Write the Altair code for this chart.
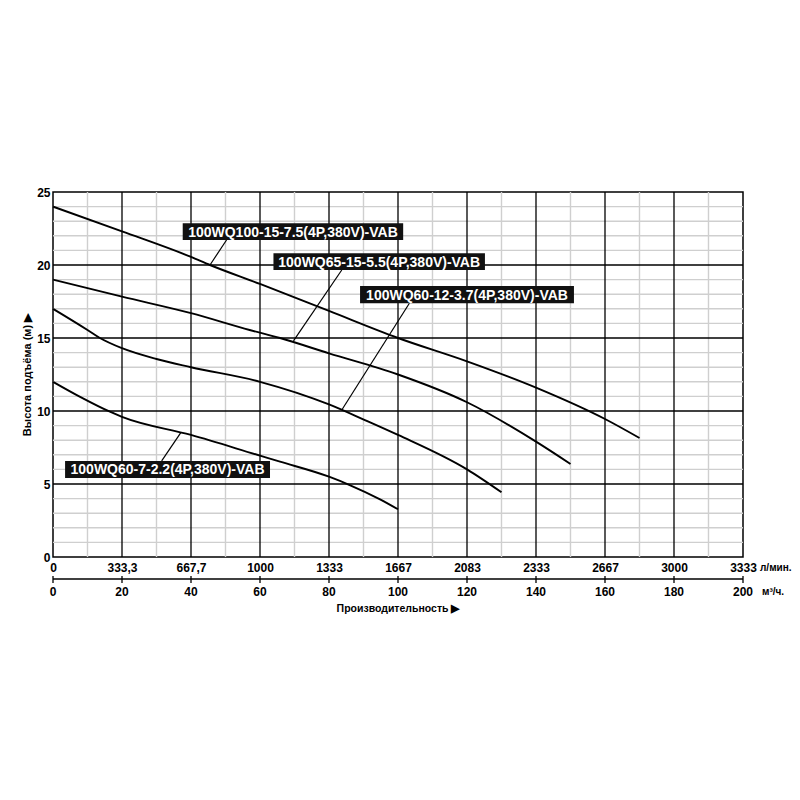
import altair as alt
import pandas as pd

# ---------------- data ----------------
# flow in m3/h, head in m
c1_x = [0, 20, 40, 45.5, 60, 80, 100, 120, 140, 160, 170]
c1_y = [24.0, 22.3, 20.55, 20.0, 18.7, 16.85, 15.0, 13.4, 11.6, 9.45, 8.15]
c2_x = [0, 20, 40, 57, 65.8, 80, 100, 120, 140, 150]
c2_y = [19.0, 17.83, 16.7, 15.55, 15.0, 13.95, 12.5, 10.6, 7.9, 6.37]
c3_x = [0, 10, 13.6, 20, 30, 40, 60, 80, 90.4, 100, 120, 130]
c3_y = [17.0, 15.55, 15.0, 14.3, 13.56, 13.0, 12.0, 10.45, 9.38, 8.36, 6.0, 4.43]
c4_x = [0, 8, 16.5, 20, 40, 60, 65.8, 80, 86, 94.8, 100]
c4_y = [12.0, 10.95, 9.95, 9.6, 8.36, 6.94, 6.53, 5.5, 4.93, 3.95, 3.27]

series_names = [
    "100WQ100-15-7.5(4P,380V)-VAB",
    "100WQ65-15-5.5(4P,380V)-VAB",
    "100WQ60-12-3.7(4P,380V)-VAB",
    "100WQ60-7-2.2(4P,380V)-VAB",
]

# label boxes (data units) and leader lines
box_x1 = [37.6, 63.9, 89.0, 3.5]
box_x2 = [101.5, 125.2, 151.0, 62.9]
box_y1 = [21.71, 19.66, 17.38, 5.41]
box_y2 = [22.86, 20.80, 18.56, 6.58]
lead_x1 = [50.3, 83.7, 103.3, 31.5]
lead_y1 = [21.71, 19.66, 17.38, 6.58]
lead_x2 = [45.5, 69.7, 83.7, 37.1]
lead_y2 = [20.0, 14.8, 10.07, 8.54]

flow_m3h = [0, 20, 40, 60, 80, 100, 120, 140, 160, 180, 200]
flow_lmin = ["0", "333,3", "667,7", "1000", "1333", "1667", "2083", "2333", "2667", "3000", "3333"]
head_ticks = [0, 5, 10, 15, 20, 25]

minor_x = [10, 30, 50, 70, 90, 110, 130, 150, 170, 190]
major_x = [20, 40, 60, 80, 100, 120, 140, 160, 180]
minor_y = [1, 2, 3, 4, 6, 7, 8, 9, 11, 12, 13, 14, 16, 17, 18, 19, 21, 22, 23, 24]
major_y = [5, 10, 15, 20]

W, H = 690, 365
FONT = "Liberation Sans"

# ---------------- frames ----------------
curves = pd.concat([
    pd.DataFrame({"q": xs, "h": ys, "s": name})
    for xs, ys, name in zip([c1_x, c2_x, c3_x, c4_x], [c1_y, c2_y, c3_y, c4_y], series_names)
])
labels = pd.DataFrame({
    "name": series_names, "x1": box_x1, "x2": box_x2, "y1": box_y1, "y2": box_y2,
    "lx1": lead_x1, "ly1": lead_y1, "lx2": lead_x2, "ly2": lead_y2,
})
labels["cx"] = (labels.x1 + labels.x2) / 2
labels["cy"] = (labels.y1 + labels.y2) / 2

xscale = alt.Scale(domain=[0, 200], nice=False, zero=False)
yscale = alt.Scale(domain=[0, 25], nice=False, zero=False)

lab_expr = "[" + ",".join("'%s'" % s for s in flow_lmin) + "][round(datum.value/20)]"

x_axis = alt.Axis(values=flow_m3h, labelExpr=lab_expr, domain=False, ticks=False, grid=False,
                  labelFont=FONT, labelFontWeight="bold", labelFontSize=12, labelColor="black",
                  labelPadding=5, labelFlush=False, labelOverlap=False, title=None)
y_axis = alt.Axis(values=head_ticks, domain=False, ticks=False, grid=False,
                  labelFont=FONT, labelFontWeight="bold", labelFontSize=12, labelColor="black",
                  labelPadding=3, labelFlush=False, labelOverlap=False,
                  title="Высота подъёма (м) ▶", titleFont=FONT, titleFontWeight="bold",
                  titleFontSize=11, titleColor="black", titlePadding=4)


def X(field):
    return alt.X(field, type="quantitative", scale=xscale, axis=x_axis)


def Y(field):
    return alt.Y(field, type="quantitative", scale=yscale, axis=y_axis)


minor_v = alt.Chart(pd.DataFrame({"x": minor_x})).mark_rule(color="#cfcfcf", strokeWidth=1.4).encode(x=X("x"))
minor_h = alt.Chart(pd.DataFrame({"y": minor_y})).mark_rule(color="#cfcfcf", strokeWidth=1.4).encode(y=Y("y"))
major_v = alt.Chart(pd.DataFrame({"x": major_x})).mark_rule(color="black", strokeWidth=1.3).encode(x=X("x"))
major_h = alt.Chart(pd.DataFrame({"y": major_y})).mark_rule(color="black", strokeWidth=1.3).encode(y=Y("y"))

lines = alt.Chart(curves).mark_line(color="black", strokeWidth=1.9, interpolate="monotone").encode(
    x=X("q"), y=Y("h"), detail="s:N",
)

leaders = alt.Chart(labels).mark_rule(color="black", strokeWidth=1.2).encode(
    x=X("lx1"), x2="lx2:Q", y=Y("ly1"), y2="ly2:Q",
)
boxes = alt.Chart(labels).mark_rect(color="#111111").encode(
    x=X("x1"), x2="x2:Q", y=Y("y1"), y2="y2:Q",
)
box_text = alt.Chart(labels).mark_text(color="white", font=FONT, fontWeight="bold", fontSize=14,
                                       baseline="middle", align="center", dy=1).encode(
    x=X("cx"), y=Y("cy"), text="name:N",
)

# second (m3/h) axis drawn below
ax2 = pd.DataFrame({"x": [flow_m3h[0]], "x2": [flow_m3h[-1]]})
ax2_line = alt.Chart(ax2).mark_rule(color="black", strokeWidth=1.3).encode(
    x=X("x"), x2="x2:Q", y=alt.value(H + 22),
)
ax2_df = pd.DataFrame({"x": flow_m3h, "t": [str(v) for v in flow_m3h]})
ax2_ticks = alt.Chart(ax2_df).mark_rule(color="black", strokeWidth=1.3).encode(
    x=X("x"), y=alt.value(H + 19), y2=alt.value(H + 26),
)
ax2_text = alt.Chart(ax2_df).mark_text(font=FONT, fontWeight="bold", fontSize=12, color="black",
                                       baseline="middle", align="center").encode(
    x=X("x"), y=alt.value(H + 35), text="t:N",
)

units = pd.DataFrame({"t": ["л/мин.", "м³/ч.", "Производительность ▶"]})
unit_l = alt.Chart(units.iloc[[0]]).mark_text(font=FONT, fontWeight="bold", fontSize=10, color="black",
                                              align="left", baseline="middle").encode(
    x=alt.value(W + 17), y=alt.value(H + 11), text="t:N")
unit_m = alt.Chart(units.iloc[[1]]).mark_text(font=FONT, fontWeight="bold", fontSize=10, color="black",
                                              align="left", baseline="middle").encode(
    x=alt.value(W + 19), y=alt.value(H + 35), text="t:N")
x_title = alt.Chart(units.iloc[[2]]).mark_text(font=FONT, fontWeight="bold", fontSize=10.5, color="black",
                                               align="center", baseline="middle").encode(
    x=alt.value(W / 2), y=alt.value(H + 52), text="t:N")

chart = alt.layer(
    minor_v, minor_h, major_v, major_h, lines, leaders, boxes, box_text,
    ax2_line, ax2_ticks, ax2_text, unit_l, unit_m, x_title,
).properties(
    width=W, height=H,
    autosize=alt.AutoSizeParams(type="none"),
    padding={"left": 45, "top": 184, "right": 49, "bottom": 90},
    background="white",
).configure_view(stroke="black", strokeWidth=1.5)

chart.save("out.html", embed_options={"renderer": "svg", "actions": False})
